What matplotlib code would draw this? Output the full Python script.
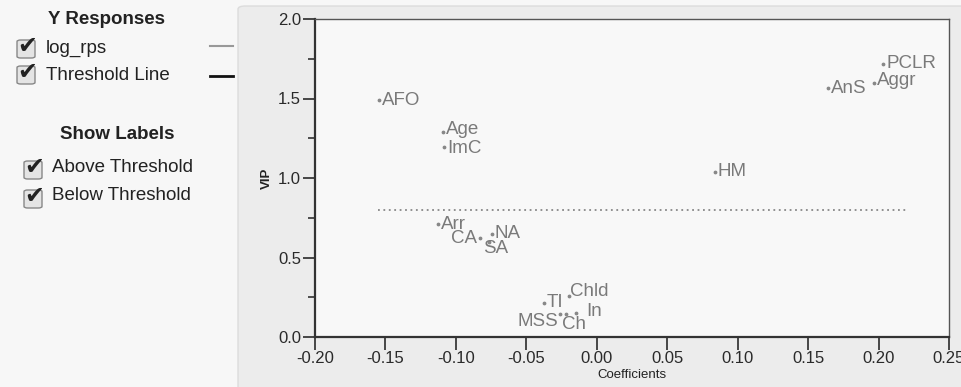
import matplotlib.pyplot as plt
from matplotlib.patches import FancyBboxPatch

plt.rcParams['font.family'] = ['Liberation Sans', 'DejaVu Sans']

# VIP vs coefficients
names = ["AFO", "Age", "ImC", "Arr", "CA", "NA", "SA", "HM", "AnS", "Aggr", "PCLR",
         "TI", "Chld", "In", "MSS", "Ch"]
coef = [-0.1546, -0.1094, -0.1084, -0.1129, -0.0829, -0.0744, -0.0765, 0.0839, 0.1643,
        0.1967, 0.2033, -0.0375, -0.0200, -0.0148, -0.0261, -0.0219]
vip = [1.49, 1.29, 1.197, 0.71, 0.62, 0.648, 0.60, 1.04, 1.564, 1.595, 1.717,
       0.214, 0.255, 0.151, 0.145, 0.145]
threshold = 0.8
thr_span = [-0.155, 0.221]

x_ticks = [-0.20, -0.15, -0.10, -0.05, 0.00, 0.05, 0.10, 0.15, 0.20, 0.25]
y_ticks = [0.0, 0.5, 1.0, 1.5, 2.0]

# label placement (pixel offsets from the dot, horizontal alignment)
label_pos = {
    "Age": (3, 2, "left"),
    "ImC": (3, -2, "left"),
    "CA": (-3, 0, "right"),
    "SA": (-6, -7, "left"),
    "Aggr": (3, 3, "left"),
    "Chld": (1, 5, "left"),
    "MSS": (-2, -8, "right"),
    "Ch": (-4, -11, "left"),
    "In": (10, 1, "left"),
}

W, H = 961, 387
fig = plt.figure(figsize=(W / 100, H / 100), dpi=100)
fig.patch.set_facecolor("#f7f7f7")


def fx(x):
    return x / W


def fy(y):
    return 1 - y / H


# right panel background
fig.patches.append(FancyBboxPatch((fx(238), fy(400)), fx(740), 394 / H,
                                  boxstyle="round,pad=0,rounding_size=0.008",
                                  transform=fig.transFigure, facecolor="#ececec",
                                  edgecolor="#dcdcdc", lw=1, zorder=-5))

ax = fig.add_axes([fx(315), fy(337), fx(949 - 315), (337 - 19) / H])
ax.set_zorder(5)
ax.set_facecolor("#f8f8f8")
ax.scatter(coef, vip, s=3, color="#888888", zorder=3)
for n, x, y in zip(names, coef, vip):
    dx, dy, ha = label_pos.get(n, (3, 0, "left"))
    ax.annotate(n, (x, y), xytext=(dx, dy), textcoords="offset pixels",
                ha=ha, va="center", fontsize=13.5, color="#7a7a7a")
ax.plot(thr_span, [threshold, threshold], ls=(0, (1, 2)), color="#888888", lw=1.3)

ax.set_xlim(x_ticks[0], x_ticks[-1])
ax.set_ylim(y_ticks[0], y_ticks[-1])
ax.set_xticks(x_ticks)
ax.set_xticklabels([f"{t:.2f}" for t in x_ticks])
ax.set_yticks(y_ticks)
ax.set_yticklabels([f"{t:.1f}" for t in y_ticks])
ax.set_yticks([0.25, 0.75, 1.25, 1.75], minor=True)
ax.tick_params(axis="both", labelsize=12, colors="#2a2a2a", length=9, width=1.2, pad=1)
ax.tick_params(axis="y", which="minor", length=5, width=1.2, color="#333333")
for s in ["left", "bottom"]:
    ax.spines[s].set_linewidth(1.6)
    ax.spines[s].set_color("#333333")
for s in ["top", "right"]:
    ax.spines[s].set_linewidth(1.0)
    ax.spines[s].set_color("#555555")
ax.set_xlabel("Coefficients", fontsize=9.5, color="#222222", labelpad=2)
ax.set_ylabel("VIP", fontsize=9.5, color="#222222", labelpad=4, weight="bold")


# left legend panel
def checkbox(x, y):
    fig.patches.append(FancyBboxPatch((fx(x), fy(y + 10)), fx(18), 18 / H,
                                      boxstyle="round,pad=0,rounding_size=0.004",
                                      transform=fig.transFigure, facecolor="#e4e4e4",
                                      edgecolor="#888888", lw=1))
    fig.text(fx(x + 10), fy(y - 2), "\u2714", fontsize=17, ha="center", va="center",
             color="#222222", family="DejaVu Sans")


fig.text(fx(106), fy(20), "Y Responses", fontsize=13.5, weight="bold", ha="center",
         va="center", color="#222222")
checkbox(17, 48)
fig.text(fx(46), fy(48), "log_rps", fontsize=13.5, va="center", color="#222222")
checkbox(17, 74)
fig.text(fx(46), fy(76), "Threshold Line", fontsize=13.5, va="center", color="#222222")
fig.lines.append(plt.Line2D([fx(210), fx(233)], [fy(46), fy(46)],
                            transform=fig.transFigure, color="#999999", lw=1.5))
fig.lines.append(plt.Line2D([fx(210), fx(233)], [fy(76), fy(76)],
                            transform=fig.transFigure, color="#111111", lw=2))
fig.text(fx(117), fy(135), "Show Labels", fontsize=13.5, weight="bold", ha="center",
         va="center", color="#222222")
checkbox(24, 169)
fig.text(fx(52), fy(167), "Above Threshold", fontsize=13.5, va="center", color="#222222")
checkbox(24, 198)
fig.text(fx(52), fy(196), "Below Threshold", fontsize=13.5, va="center", color="#222222")

fig.savefig("out.png", dpi=100, facecolor=fig.get_facecolor())
